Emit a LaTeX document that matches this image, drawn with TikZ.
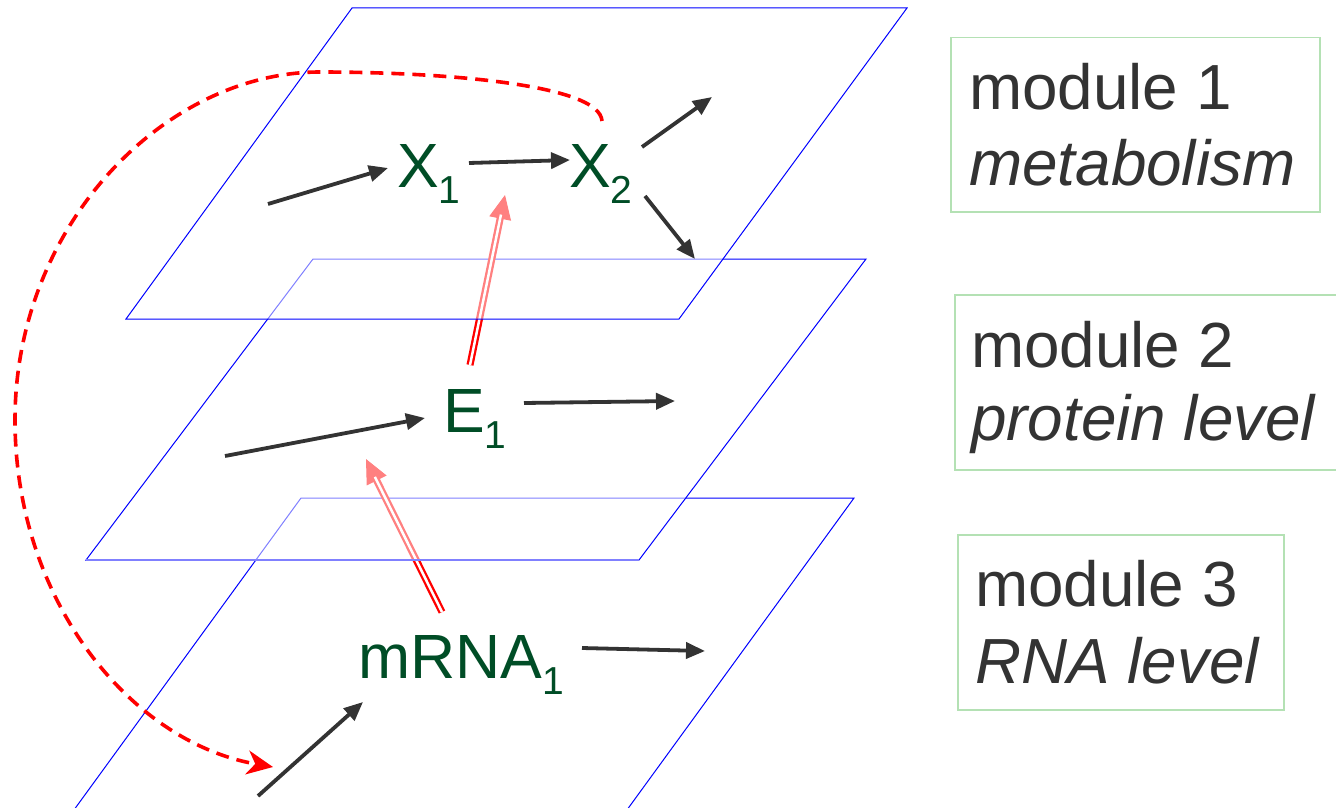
\documentclass[tikz,border=0pt]{standalone}
\usepackage{fontspec}
\setmainfont{Liberation Sans}
\usetikzlibrary{arrows.meta}
\definecolor{nodegreen}{RGB}{0,77,38}
\definecolor{txtgray}{RGB}{51,51,51}
\definecolor{boxgreen}{RGB}{180,225,180}
\newcommand\mysub[1]{\raisebox{-16pt}{\fontsize{39}{40}\selectfont #1}}
\begin{document}
\begin{tikzpicture}[x=1pt,y=-1pt,
  plane/.style={draw=blue, fill=white, fill opacity=0.5, line width=1pt},
  flow/.style={draw=txtgray, line width=3.8pt, -{Triangle[length=19pt,width=16pt]}},
  regtip/.style={draw=red, fill=red, line width=1pt, -{Triangle[length=24pt,width=22pt]}},
  regline/.style={draw=red, double=white, double distance=2.5pt, line width=2.3pt, shorten >=20pt},
  lbl/.style={text=nodegreen, font=\fontsize{62.5}{70}\selectfont, inner sep=0pt, anchor=base west},
  mtxt/.style={text=txtgray, font=\fontsize{63.8}{70}\selectfont, inner sep=0pt, anchor=base west},
  modbox/.style={draw=boxgreen, line width=1.5pt, anchor=north west, inner sep=0pt},
  feedback/.style={draw=red, line width=3.6pt, dash pattern=on 13pt off 8pt, -{Stealth[length=26pt,width=24pt,inset=8pt]}}
]
\useasboundingbox (0,0) rectangle (1336,808);
\clip (0,0) rectangle (1336,808);

% ---------- plane 3 (RNA level) ----------
\path[plane] (301,498) -- (854,498) -- (624,814) -- (71,814) -- cycle;
\node[lbl] (mrna) at (358,678) {mRNA\mysub{1}};
\coordinate (m1s) at (258,796);
\coordinate (m1e) at (363,702);
\coordinate (m2s) at (582,648);
\coordinate (m2e) at (705,651);
\draw[flow] (m1s) -- (m1e);
\draw[flow] (m2s) -- (m2e);
\coordinate (rAs) at (442,612);
\coordinate (rAe) at (366,459);
\draw[regtip] (rAs) -- (rAe);
\draw[regline] (rAs) -- (rAe);

% ---------- plane 2 (protein level) ----------
\path[plane] (313,259) -- (866,259) -- (639,560) -- (86,560) -- cycle;
\coordinate (p2bl) at (86,560);
\coordinate (p2br) at (639,560);
\draw[blue!50, line width=2pt] (p2bl) -- (p2br);
\node[lbl] (e1) at (443,432) {E\mysub{1}};
\coordinate (e1s) at (225,456);
\coordinate (e1e) at (425,418);
\coordinate (e2s) at (524,403);
\coordinate (e2e) at (675,401);
\draw[flow] (e1s) -- (e1e);
\draw[flow] (e2s) -- (e2e);
\coordinate (rBs) at (470,365);
\coordinate (rBe) at (505,195);
\draw[regtip] (rBs) -- (rBe);
\draw[regline] (rBs) -- (rBe);

% ---------- plane 1 (metabolism) ----------
\path[plane] (352,8) -- (907,8) -- (679,319) -- (126,319) -- cycle;
\node[lbl] (x1) at (397,187) {X\mysub{1}};
\node[lbl] (x2) at (569,187) {X\mysub{2}};
\coordinate (x0s) at (268,204);
\coordinate (x0e) at (388,168);
\coordinate (x1s) at (469,163);
\coordinate (x1e) at (570,160);
\coordinate (x2as) at (642,147);
\coordinate (x2ae) at (712,97);
\coordinate (x2bs) at (645,196);
\coordinate (x2be) at (695,259);
\draw[flow] (x0s) -- (x0e);
\draw[flow] (x1s) -- (x1e);
\draw[flow] (x2as) -- (x2ae);
\draw[flow] (x2bs) -- (x2be);

% ---------- feedback from X2 to RNA level ----------
\coordinate (fbs) at (602,121);
\coordinate (fbe) at (273,767);
\draw[feedback] (fbs) .. controls (600,84) and (440,72) .. (320,72)
  .. controls (165,72) and (15,225) .. (15,420)
  .. controls (15,600) and (130,742) .. (fbe);

% ---------- module boxes ----------
\node[modbox, minimum width=369pt, minimum height=174pt] (box1) at (950,37) {};
\node[mtxt] (b1a) at (969,110) {module 1};
\node[mtxt] (b1b) at (969,185) {\itshape metabolism};
\node[modbox, minimum width=400pt, minimum height=175pt] (box2) at (954,294) {};
\node[mtxt] (b2a) at (971,367) {module 2};
\node[mtxt] (b2b) at (971,440) {\itshape protein level};
\node[modbox, minimum width=326pt, minimum height=175pt] (box3) at (957,534) {};
\node[mtxt] (b3a) at (975,606) {module 3};
\node[mtxt] (b3b) at (975,683) {\itshape RNA level};
\end{tikzpicture}
\end{document}
